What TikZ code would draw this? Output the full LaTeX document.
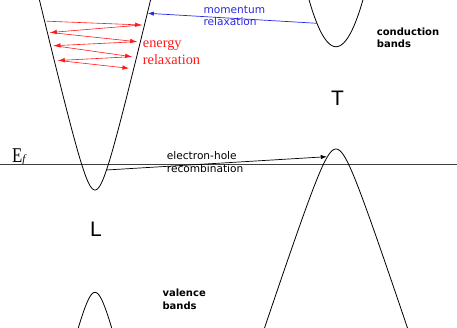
\documentclass[tikz,border=0pt]{standalone}
\usepackage{fontspec}
\usepackage{graphicx}
\setmainfont{Liberation Serif}
\newfontfamily\dvs{DejaVu Sans}
\newfontfamily\lsans{Liberation Sans}
\usetikzlibrary{arrows.meta}
\definecolor{myblue}{RGB}{40,40,230}
\definecolor{myred}{RGB}{255,25,25}
\newcommand{\twolines}[3]{\vtop{\baselineskip=#1\hbox{#2}\hbox{#3}}}
\begin{document}
\begin{tikzpicture}[x=1pt,y=-1pt,
  band/.style={line width=0.8pt,black},
  arr/.style={line width=0.7pt,-{Latex[length=6pt,width=4.4pt]}},
  redarr/.style={line width=0.6pt,myred,-{Latex[length=6.5pt,width=4.6pt]}},
  lab/.style={anchor=base west,inner sep=0pt},
  reg/.style={font=\dvs\fontsize{10.6}{12.7}\selectfont},
  bld/.style={font=\dvs\bfseries\fontsize{10}{12}\selectfont},
  big/.style={anchor=base,inner sep=0pt,font=\lsans\fontsize{21}{21}\selectfont}]
\useasboundingbox (0,0) rectangle (457,328);
\fill[white] (0,0) rectangle (457,328);
\begin{scope}
\clip (0,0) rectangle (457,328);
% Fermi level
\draw[line width=0.9pt,black!75] (0,164.3) -- (457,164.3);
% L conduction band
\draw[band] plot[domain=-58:58,samples=117,smooth] ({95+\x},{190-4.2*(sqrt(\x*\x+132.25)-11.5)});
% T conduction band
\draw[band] plot[domain=-29:29,samples=59,smooth] ({336+\x},{46.7-0.0645*\x*\x});
% T valence band
\draw[band] plot[domain=-73:73,samples=147,smooth] ({336+\x},{149+3*(sqrt(\x*\x+169)-13)});
% L valence band
\draw[band] plot[domain=-19:19,samples=39,smooth] ({95+\x},{292.3+4*(sqrt(\x*\x+125.44)-11.2)});
\end{scope}
% connector end points
\coordinate (m1) at (317,23.3);
\coordinate (m2) at (147.8,13.3);
\coordinate (e1) at (106.5,170);
\coordinate (e2) at (326.8,156.7);
\coordinate (r0) at (46.7,21.2);
\coordinate (r1) at (141.7,25);
\coordinate (r2) at (50.3,32.5);
\coordinate (r3) at (136.7,41.7);
\coordinate (r4) at (54,45.7);
\coordinate (r5) at (131.7,56.7);
\coordinate (r6) at (58.3,60.5);
\coordinate (r7) at (129,68.3);
% arrows
\draw[arr,myblue] (m1) -- (m2);
\draw[arr,black] (e1) -- (e2);
\draw[redarr] (r0) -- (r1);
\draw[redarr] (r1) -- (r2);
\draw[redarr] (r2) -- (r3);
\draw[redarr] (r3) -- (r4);
\draw[redarr] (r4) -- (r5);
\draw[redarr] (r5) -- (r6);
\draw[redarr] (r6) -- (r7);
% labels
\node[lab,reg,text=myblue] (mom) at (203.3,13.3) {\twolines{12.7pt}{momentum}{relaxation}};
\node[lab,bld] (cb) at (376.7,35.5) {\twolines{12.2pt}{conduction}{bands}};
\node[lab,bld] (vb) at (162.3,296.7) {\twolines{12.3pt}{valence}{bands}};
\node[lab,reg] (eh) at (166.7,159.3) {\twolines{13.4pt}{electron-hole}{recombination}};
\node[lab,text=myred,font=\rmfamily\fontsize{14.3}{16.7}\selectfont] (er) at (142.7,47.7) {\twolines{16.6pt}{energy}{relaxation}};
\node[big] (T) at (337.6,106) {T};
\node[big] (L) at (96,236.7) {L};
\node[lab] (ef) at (12,162.3) {{\fontsize{21}{21}\selectfont\scalebox{0.8}[1]{E}}{\fontsize{11}{11}\selectfont\textit{f}}};
\end{tikzpicture}
\end{document}
